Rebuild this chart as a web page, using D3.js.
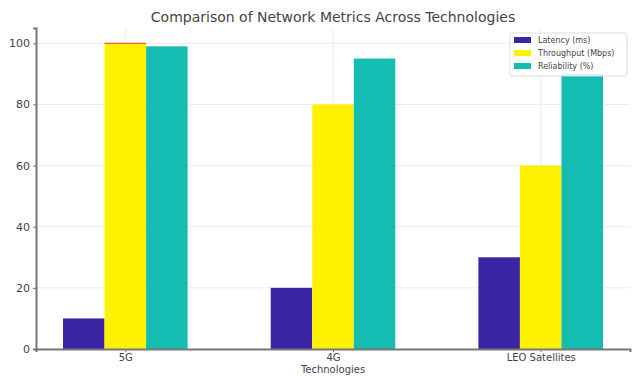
<!DOCTYPE html>
<html>
<head>
<meta charset="utf-8">
<script src="https://cdn.jsdelivr.net/npm/d3@7"></script>
<style>
  body { margin: 0; background: #fff; }
  text { font-family: "DejaVu Sans", sans-serif; }
</style>
</head>
<body>
<div id="chart"></div>
<script>
var technologies = ["5G", "4G", "LEO Satellites"];
var seriesNames = ["Latency (ms)", "Throughput (Mbps)", "Reliability (%)"];
var latency = [10, 20, 30];
var throughput = [100, 80, 60];
var reliability = [99, 95, 90];
var yTicks = [0, 20, 40, 60, 80, 100];

var colors = ["#3b25a6", "#fff200", "#14bcb1"];
var seriesValues = [latency, throughput, reliability];

var width = 635, height = 376;
var svg = d3.select("#chart").append("svg")
    .attr("width", width)
    .attr("height", height);

// matplotlib-like layout: categories at 0,1,2, bar width 0.2
var barW = 0.2;
var x = d3.scaleLinear().domain([-0.43, 2.43]).range([36, 630]);
var y = d3.scaleLinear().domain([0, 105]).range([349, 28]);

// grid
svg.append("g")
    .selectAll("line.h")
    .data(yTicks)
    .enter().append("line")
    .attr("x1", x(-0.43)).attr("x2", x(2.43))
    .attr("y1", d => y(d)).attr("y2", d => y(d))
    .attr("stroke", "#ececec").attr("stroke-width", 1);

svg.append("g")
    .selectAll("line.v")
    .data(technologies)
    .enter().append("line")
    .attr("x1", (d, i) => x(i)).attr("x2", (d, i) => x(i))
    .attr("y1", y(0)).attr("y2", y(105))
    .attr("stroke", "#ececec").attr("stroke-width", 1);

// bars
seriesValues.forEach(function(vals, s) {
    svg.append("g")
        .selectAll("rect")
        .data(vals)
        .enter().append("rect")
        .attr("x", (d, i) => x(i + (s - 1) * barW - barW / 2))
        .attr("width", x(barW) - x(0))
        .attr("y", d => y(d))
        .attr("height", d => y(0) - y(d))
        .attr("fill", colors[s]);
});

// thin red edge on top of the 5G throughput bar
svg.append("line")
    .attr("x1", x(-barW / 2)).attr("x2", x(barW / 2))
    .attr("y1", y(throughput[0])).attr("y2", y(throughput[0]))
    .attr("stroke", "#f05a3c").attr("stroke-width", 1.2);

// axes
var yAxis = svg.append("g")
    .attr("transform", "translate(" + x(-0.43) + ",0)")
    .call(d3.axisLeft(y).tickValues(yTicks).tickSize(3).tickPadding(3));
yAxis.select(".domain").attr("stroke", "#777").attr("stroke-width", 2);
yAxis.selectAll(".tick line").attr("stroke", "#777");
yAxis.selectAll("text").attr("fill", "#444").style("font-size", "11px");

var xAxis = svg.append("g")
    .attr("transform", "translate(0," + y(0) + ")")
    .call(d3.axisBottom(x).tickValues([0, 1, 2])
        .tickFormat(i => technologies[i]).tickSize(3).tickPadding(2));
xAxis.select(".domain").attr("stroke", "#777").attr("stroke-width", 2);
xAxis.selectAll(".tick line").attr("stroke", "#777");
xAxis.selectAll("text").attr("fill", "#444").style("font-size", "10px");

// labels
svg.append("text")
    .attr("x", 333).attr("y", 22)
    .attr("text-anchor", "middle")
    .style("font-size", "14px")
    .attr("fill", "#444")
    .text("Comparison of Network Metrics Across Technologies");

svg.append("text")
    .attr("x", 333).attr("y", 373)
    .attr("text-anchor", "middle")
    .style("font-size", "10px")
    .attr("fill", "#444")
    .text("Technologies");

// legend
var legend = svg.append("g").attr("transform", "translate(510,33)");
legend.append("rect")
    .attr("width", 117).attr("height", 43)
    .attr("fill", "#fff").attr("fill-opacity", 0.85)
    .attr("stroke", "#ddd").attr("rx", 2);
legend.selectAll("rect.sw")
    .data(seriesNames)
    .enter().append("rect")
    .attr("class", "sw")
    .attr("x", 4).attr("y", (d, i) => 4 + i * 13)
    .attr("width", 17).attr("height", 6)
    .attr("fill", (d, i) => colors[i]);
legend.selectAll("text")
    .data(seriesNames)
    .enter().append("text")
    .attr("x", 28).attr("y", (d, i) => 7 + i * 13)
    .attr("dominant-baseline", "middle")
    .style("font-size", "8px")
    .attr("fill", "#444")
    .text(d => d);
</script>
</body>
</html>
